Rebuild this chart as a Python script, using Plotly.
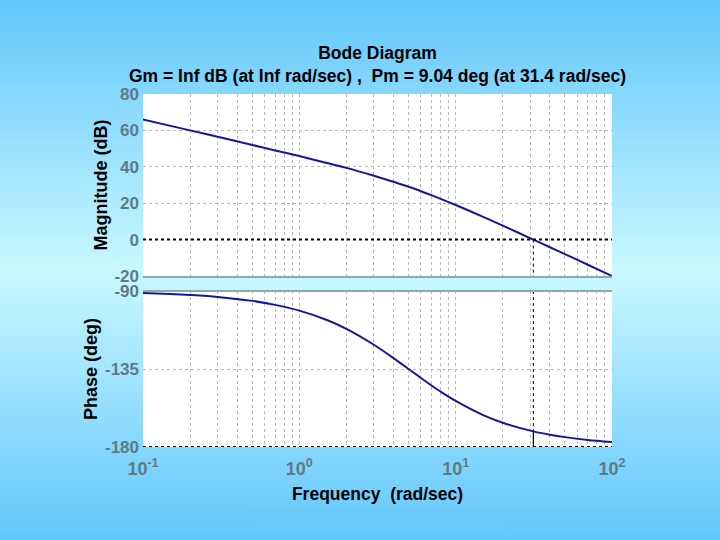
import base64
import plotly.graph_objects as go
from plotly.subplots import make_subplots

# ---- data ----
freq = [0.1, 0.15, 0.2, 0.3, 0.5, 0.7, 1, 1.5, 2, 3, 4, 5, 6, 7, 8, 10, 15, 20, 31.4, 40, 50, 70, 100]
magnitude_db = [66.0, 62.5, 60.0, 56.5, 52.0, 49.0, 45.9, 42.1, 39.4, 35.1, 31.8, 29.0, 26.6, 24.4, 22.4,
                19.0, 12.5, 7.7, 0.0, -4.2, -8.0, -13.8, -20.0]
phase_deg = [-91.1, -91.7, -92.3, -93.4, -95.7, -98.0, -101.3, -106.7, -111.8, -121.0, -128.7, -135.0,
             -140.2, -144.5, -148.0, -153.4, -161.6, -166.0, -171.0, -172.9, -174.3, -175.9, -177.1]

crossover_freq = 31.4
phase_at_crossover = -171.0
freq_range = [0.1, 100]
mag_range = [-20, 80]
phase_range = [-180, -90]

x_tickvals = [0.1, 1, 10, 100]
x_ticktext = ["10<sup>-1</sup>", "10<sup>0</sup>", "10<sup>1</sup>", "10<sup>2</sup>"]
x_minor = [m * d for d in [0.1, 1, 10] for m in range(2, 10)]
mag_tickvals = [-20, 0, 20, 40, 60, 80]
mag_ticktext = ["-20", "0", "20", "40", "60", "80"]
phase_tickvals = [-180, -135, -90]
phase_ticktext = ["-180", "-135", "-90"]

title_line1 = "Bode Diagram"
title_line2 = "Gm = Inf dB (at Inf rad/sec) ,  Pm = 9.04 deg (at 31.4 rad/sec)"

# ---- styling ----
FONT = "Liberation Sans, Arial, sans-serif"
CURVE = "#16169a"
GRID = "#b8b8b8"
TICKCOL = "#5e7a88"
W, H = 720, 540
L, R, T, B = 143, 108, 94, 93
ph = H - T - B

svg = f'''<svg xmlns="http://www.w3.org/2000/svg" width="{W}" height="{H}">
<defs><linearGradient id="g" x1="0" y1="0" x2="0" y2="1">
<stop offset="0" stop-color="#62c6fb"/>
<stop offset="0.5" stop-color="#c9f8ff"/>
<stop offset="1" stop-color="#62c6fb"/>
</linearGradient></defs>
<rect width="{W}" height="{H}" fill="url(#g)"/></svg>'''
bg_src = "data:image/svg+xml;base64," + base64.b64encode(svg.encode()).decode()

mag_dom = [(H - B - 276) / ph, 1]
phase_dom = [0, (H - B - 291) / ph]

fig = make_subplots(rows=2, cols=1, shared_xaxes=False, vertical_spacing=0.0)

fig.add_trace(go.Scatter(x=freq, y=magnitude_db, mode="lines",
                         line=dict(color=CURVE, width=2, shape="spline", smoothing=0.8),
                         showlegend=False, hoverinfo="skip"), row=1, col=1)
fig.add_trace(go.Scatter(x=freq_range, y=[0, 0], mode="lines",
                         line=dict(color="black", width=2, dash="dot"), showlegend=False), row=1, col=1)
fig.add_trace(go.Scatter(x=[crossover_freq, crossover_freq], y=[0, mag_range[0]], mode="lines",
                         line=dict(color="black", width=1, dash="dot"), showlegend=False), row=1, col=1)

fig.add_trace(go.Scatter(x=freq_range, y=[phase_range[0]] * 2, mode="lines",
                         line=dict(color="black", width=2, dash="dot"), showlegend=False), row=2, col=1)
fig.add_trace(go.Scatter(x=[crossover_freq, crossover_freq], y=[phase_range[1], phase_at_crossover], mode="lines",
                         line=dict(color="black", width=1, dash="dot"), showlegend=False), row=2, col=1)
fig.add_trace(go.Scatter(x=[crossover_freq, crossover_freq], y=[phase_at_crossover, phase_range[0]], mode="lines",
                         line=dict(color="black", width=1.2), showlegend=False), row=2, col=1)
fig.add_trace(go.Scatter(x=freq, y=phase_deg, mode="lines",
                         line=dict(color=CURVE, width=2, shape="spline", smoothing=0.8),
                         showlegend=False, hoverinfo="skip"), row=2, col=1)

xcommon = dict(type="log", range=[-1, 2], tickvals=x_tickvals, ticktext=x_ticktext,
               showgrid=True, gridcolor=GRID, griddash="dot", gridwidth=1,
               minor=dict(tickvals=x_minor, showgrid=True, gridcolor=GRID, griddash="dot", gridwidth=1, ticks=""),
               ticks="", zeroline=False, ticklabelstandoff=9,
               tickfont=dict(family=FONT, size=18, color=TICKCOL, weight="bold"))

fig.update_xaxes(**xcommon)
fig.update_xaxes(row=1, col=1, showticklabels=False, showline=True, linecolor="#8fa8b0", linewidth=2)
fig.update_xaxes(row=2, col=1, title=dict(text="Frequency  (rad/sec)", standoff=9,
                 font=dict(family=FONT, size=17.5, color="black", weight="bold")))

ycommon = dict(showgrid=True, gridcolor=GRID, griddash="dot", gridwidth=1, zeroline=False, ticks="",
               tickfont=dict(family=FONT, size=17, color=TICKCOL, weight="bold"), ticklabelstandoff=3)
fig.update_yaxes(**ycommon)
fig.update_yaxes(row=1, col=1, range=mag_range, tickvals=mag_tickvals, ticktext=mag_ticktext, domain=mag_dom,
                 title=dict(text="Magnitude (dB)", standoff=2,
                            font=dict(family=FONT, size=18, color="black", weight="bold")))
fig.update_yaxes(row=2, col=1, range=phase_range, tickvals=phase_tickvals, ticktext=phase_ticktext,
                 domain=phase_dom,
                 title=dict(text="Phase (deg)", standoff=2,
                            font=dict(family=FONT, size=18, color="black", weight="bold")))

fig.add_shape(type="line", xref="x2 domain", yref="y2 domain", x0=0, x1=1, y0=1, y1=1,
              line=dict(color="#8fa8b0", width=2))
fig.add_shape(type="rect", xref="x domain", yref="y domain", x0=0, x1=1, y0=0, y1=1,
              fillcolor="white", line=dict(width=0), layer="below")
fig.add_shape(type="rect", xref="x2 domain", yref="y2 domain", x0=0, x1=1, y0=0, y1=1,
              fillcolor="white", line=dict(width=0), layer="below")

fig.add_layout_image(dict(source=bg_src, xref="paper", yref="paper",
                          x=-L / (W - L - R), y=1 + T / ph, sizex=W / (W - L - R), sizey=H / ph,
                          xanchor="left", yanchor="top", sizing="stretch", layer="below"))

fig.update_layout(
    width=W, height=H, margin=dict(l=L, r=R, t=T, b=B),
    paper_bgcolor="#9adcfd", plot_bgcolor="rgba(0,0,0,0)",
    title=dict(text=f"{title_line1}<br>{title_line2}", x=(L + (W - L - R) / 2) / W, xanchor="center",
               y=1 - 59 / H, yanchor="top",
               font=dict(family=FONT, size=17.5, color="black", weight="bold")),
    showlegend=False,
)

fig.write_html("out.html", config={"displayModeBar": False},
               post_script="document.body.style.margin='0';document.body.style.overflow='hidden';")
